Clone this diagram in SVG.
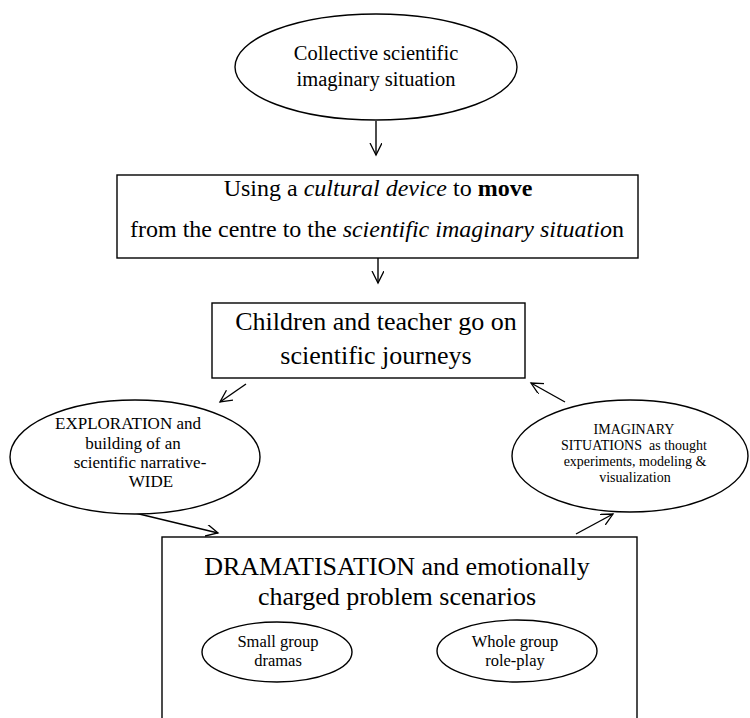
<svg xmlns="http://www.w3.org/2000/svg" width="750" height="718" viewBox="0 0 750 718">
<defs>
<marker id="arr" markerUnits="userSpaceOnUse" markerWidth="14" markerHeight="14" refX="12" refY="6" orient="auto">
<path d="M0,0 L12,6 L0,12" fill="none" stroke="#000" stroke-width="1.3"/>
</marker>
<style>
.sh{fill:#fff;stroke:#000;stroke-width:1.4}
.t{font-family:"Liberation Serif","Times New Roman",serif;fill:#000;text-anchor:middle}
.c{stroke:#000;stroke-width:1.4;fill:none;marker-end:url(#arr)}
</style>
</defs>
<rect width="750" height="718" fill="#fff"/>
<g id="connectors">
<line class="c" x1="376" y1="121" x2="376" y2="155"/>
<line class="c" x1="378" y1="258" x2="378" y2="283"/>
<line class="c" x1="246" y1="384" x2="220" y2="402"/>
<line class="c" x1="135" y1="513" x2="218" y2="533"/>
<line class="c" x1="576" y1="534" x2="613" y2="514"/>
<line class="c" x1="565" y1="402" x2="531" y2="383"/>
</g>
<g id="collective">
<ellipse class="sh" cx="376" cy="67" rx="141" ry="53"/>
<text class="t" font-size="20.5" x="376" y="60">Collective scientific</text>
<text class="t" font-size="20.5" x="376" y="86">imaginary situation</text>
</g>
<g id="cultural-device">
<rect class="sh" x="117" y="175" width="521" height="83"/>
<text class="t" font-size="24" x="378" y="196">Using a <tspan font-style="italic">cultural device</tspan> to <tspan font-weight="bold">move</tspan></text>
<text class="t" font-size="24" x="377" y="237">from the centre to the <tspan font-style="italic">scientific imaginary situatio</tspan>n</text>
</g>
<g id="journeys">
<rect class="sh" x="212" y="303" width="313" height="75"/>
<text class="t" font-size="26" x="376" y="330">Children and teacher go on</text>
<text class="t" font-size="26" x="376" y="364">scientific journeys</text>
</g>
<g id="exploration">
<ellipse class="sh" cx="135" cy="457" rx="125" ry="57"/>
<text class="t" font-size="17" x="128" y="429">EXPLORATION and</text>
<text class="t" font-size="17" x="133" y="449">building of an</text>
<text class="t" font-size="17" x="140" y="468">scientific narrative-</text>
<text class="t" font-size="17" x="151" y="487">WIDE</text>
</g>
<g id="imaginary">
<ellipse class="sh" cx="630" cy="456" rx="118" ry="56"/>
<text class="t" font-size="14" x="634" y="434">IMAGINARY</text>
<text class="t" font-size="14" x="634" y="450" xml:space="preserve">SITUATIONS  as thought</text>
<text class="t" font-size="14" x="635" y="466">experiments, modeling &amp;</text>
<text class="t" font-size="14" x="635" y="482">visualization</text>
</g>
<g id="dramatisation">
<rect class="sh" x="162" y="537" width="475" height="200"/>
<text class="t" font-size="26" x="397" y="575">DRAMATISATION and emotionally</text>
<text class="t" font-size="26" x="397" y="605">charged problem scenarios</text>
</g>
<g id="small-group">
<ellipse class="sh" cx="277" cy="652" rx="75" ry="30"/>
<text class="t" font-size="16.5" x="278" y="647">Small group</text>
<text class="t" font-size="16.5" x="278" y="666">dramas</text>
</g>
<g id="whole-group">
<ellipse class="sh" cx="517" cy="651" rx="80" ry="31"/>
<text class="t" font-size="16.5" x="515" y="647">Whole group</text>
<text class="t" font-size="16.5" x="515" y="666">role-play</text>
</g>
</svg>
